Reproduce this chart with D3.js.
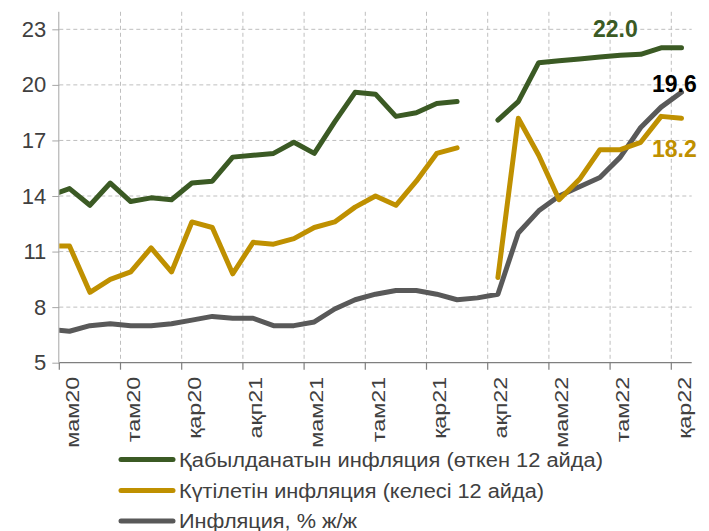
<!DOCTYPE html>
<html><head><meta charset="utf-8">
<script src="https://cdn.jsdelivr.net/npm/d3@7/dist/d3.min.js"></script>
<style>html,body{margin:0;padding:0;background:#fff;}svg{display:block;}</style>
</head><body>
<svg id="c" width="709" height="531"></svg>
<script>
// Months from Apr 2020 (first, clipped by plot area) to Nov 2022
const categories = ["сәу20","мам20","мау20","шіл20","там20","қыр20","қаз20","қар20","жел20",
  "қаң21","ақп21","нау21","сәу21","мам21","мау21","шіл21","там21","қыр21","қаз21","қар21","жел21",
  "қаң22","ақп22","нау22","сәу22","мам22","мау22","шіл22","там22","қыр22","қаз22","қар22"];
const tickLabels = ["мам20","там20","қар20","ақп21","мам21","там21","қар21","ақп22","мам22","там22","қар22"];
const yTicks = [5, 8, 11, 14, 17, 20, 23];

const perceived = [14.0, 14.4, 13.5, 14.7, 13.7, 13.9, 13.8, 14.7, 14.8,
  16.1, 16.2, 16.3, 16.9, 16.3, 18.0, 19.6, 19.5, 18.3, 18.5, 19.0, 19.1,
  null, 18.1, 19.1, 21.2, 21.3, 21.4, 21.5, 21.6, 21.65, 22.0, 22.0];
const expected = [11.3, 11.3, 8.8, 9.5, 9.9, 11.2, 9.9, 12.6, 12.3,
  9.8, 11.5, 11.4, 11.7, 12.3, 12.6, 13.4, 14.0, 13.5, 14.8, 16.3, 16.6,
  null, 9.6, 18.2, 16.2, 13.8, 14.9, 16.5, 16.5, 16.9, 18.3, 18.2];
const inflation = [6.8, 6.7, 7.0, 7.1, 7.0, 7.0, 7.1, 7.3, 7.5,
  7.4, 7.4, 7.0, 7.0, 7.2, 7.9, 8.4, 8.7, 8.9, 8.9, 8.7, 8.4,
  8.5, 8.7, 12.0, 13.2, 14.0, 14.5, 15.0, 16.1, 17.7, 18.8, 19.6];

const seriesNames = ["Қабылданатын инфляция (өткен 12 айда)", "Күтілетін инфляция (келесі 12 айда)", "Инфляция, % ж/ж"];
const seriesColors = ["#3b5a24", "#bf9000", "#595959"];
const endLabelColors = ["#3b5a24", "#000000", "#bf9000"];

const FONT = "Liberation Sans, Arial, sans-serif";
const svg = d3.select("#c");
const L = 59.3, R = 691.7, T = 10.8, B = 362.7;

const x = d3.scaleLinear().domain([0.5, categories.length - 0.5]).range([L, R]);
const y = d3.scaleLinear().domain([5, 24]).range([B, T]);

svg.append("defs").append("clipPath").attr("id", "plotclip")
  .append("rect").attr("x", L).attr("y", 0).attr("width", R - L).attr("height", B + 5);

const boundaries = d3.range(0.5, categories.length, 3);

// horizontal gridlines
svg.append("g").selectAll("line").data(yTicks.filter(v => v > 5)).join("line")
  .attr("x1", L).attr("x2", R).attr("y1", d => y(d)).attr("y2", d => y(d))
  .attr("stroke", "#bfbfbf").attr("stroke-width", 1).attr("stroke-dasharray", "4,3");
// vertical gridlines
svg.append("g").selectAll("line").data(boundaries.slice(1)).join("line")
  .attr("x1", d => x(d)).attr("x2", d => x(d)).attr("y1", T + 1).attr("y2", B)
  .attr("stroke", "#bfbfbf").attr("stroke-width", 1).attr("stroke-dasharray", "4,3");

// y axis
const yAxis = svg.append("g").attr("transform", `translate(${L},0)`)
  .call(d3.axisLeft(y).tickValues(yTicks).tickSize(7).tickPadding(6).tickFormat(d3.format("d")));
yAxis.select(".domain").attr("stroke", "#a6a6a6").attr("d", `M-0.5,${T + 1}V${B}`);
yAxis.selectAll(".tick line").attr("stroke", "#a6a6a6");
yAxis.selectAll(".tick text").attr("fill", "#404040").attr("font-family", FONT).attr("font-size", 22);

// x axis
const xg = svg.append("g");
xg.append("line").attr("x1", L).attr("x2", R).attr("y1", B).attr("y2", B).attr("stroke", "#7f7f7f").attr("stroke-width", 1.2);
xg.selectAll("line.tk").data(boundaries).join("line").attr("class", "tk")
  .attr("x1", d => x(d)).attr("x2", d => x(d)).attr("y1", B).attr("y2", B + 7)
  .attr("stroke", "#7f7f7f").attr("stroke-width", 1.2);
xg.selectAll("text").data(tickLabels).join("text")
  .attr("transform", d => `translate(${x(categories.indexOf(d)) + 2.5},${B + 14}) rotate(-90) scale(1.23,1)`)
  .attr("text-anchor", "end").attr("dy", "0.35em")
  .attr("fill", "#404040").attr("font-family", FONT).attr("font-size", 19)
  .text(d => d);

// lines
const data = [perceived, expected, inflation];
const line = d3.line().defined(d => d != null).x((d, i) => x(i)).y(d => y(d));
const lg = svg.append("g").attr("clip-path", "url(#plotclip)");
[2, 1, 0].forEach(k => {
  lg.append("path").datum(data[k]).attr("d", line)
    .attr("fill", "none").attr("stroke", seriesColors[k]).attr("stroke-width", 5)
    .attr("stroke-linejoin", "round").attr("stroke-linecap", "round");
});

// end labels
const last = categories.length - 1;
const endLabels = [
  {v: perceived[last], c: endLabelColors[0], x: 593, y: 36.7},
  {v: inflation[last], c: endLabelColors[1], x: 652, y: 91.7},
  {v: expected[last], c: endLabelColors[2], x: 652, y: 157.3}
];
svg.append("g").selectAll("text").data(endLabels).join("text")
  .attr("x", d => d.x).attr("y", d => d.y).attr("fill", d => d.c)
  .attr("font-family", FONT).attr("font-weight", "bold").attr("font-size", 23)
  .text(d => d3.format(".1f")(d.v));

// legend
const leg = svg.append("g");
const legY = [459.5, 490.5, 521];
const legLen = [424, 365, 178];
seriesNames.forEach((n, k) => {
  leg.append("line").attr("x1", 121).attr("x2", 173).attr("y1", legY[k]).attr("y2", legY[k])
    .attr("stroke", seriesColors[k]).attr("stroke-width", 5).attr("stroke-linecap", "round");
  leg.append("text").attr("x", 179).attr("y", legY[k] + 7.3)
    .attr("textLength", legLen[k]).attr("lengthAdjust", "spacingAndGlyphs")
    .attr("fill", "#404040").attr("font-family", FONT).attr("font-size", 20)
    .text(n);
});
</script>
</body></html>
